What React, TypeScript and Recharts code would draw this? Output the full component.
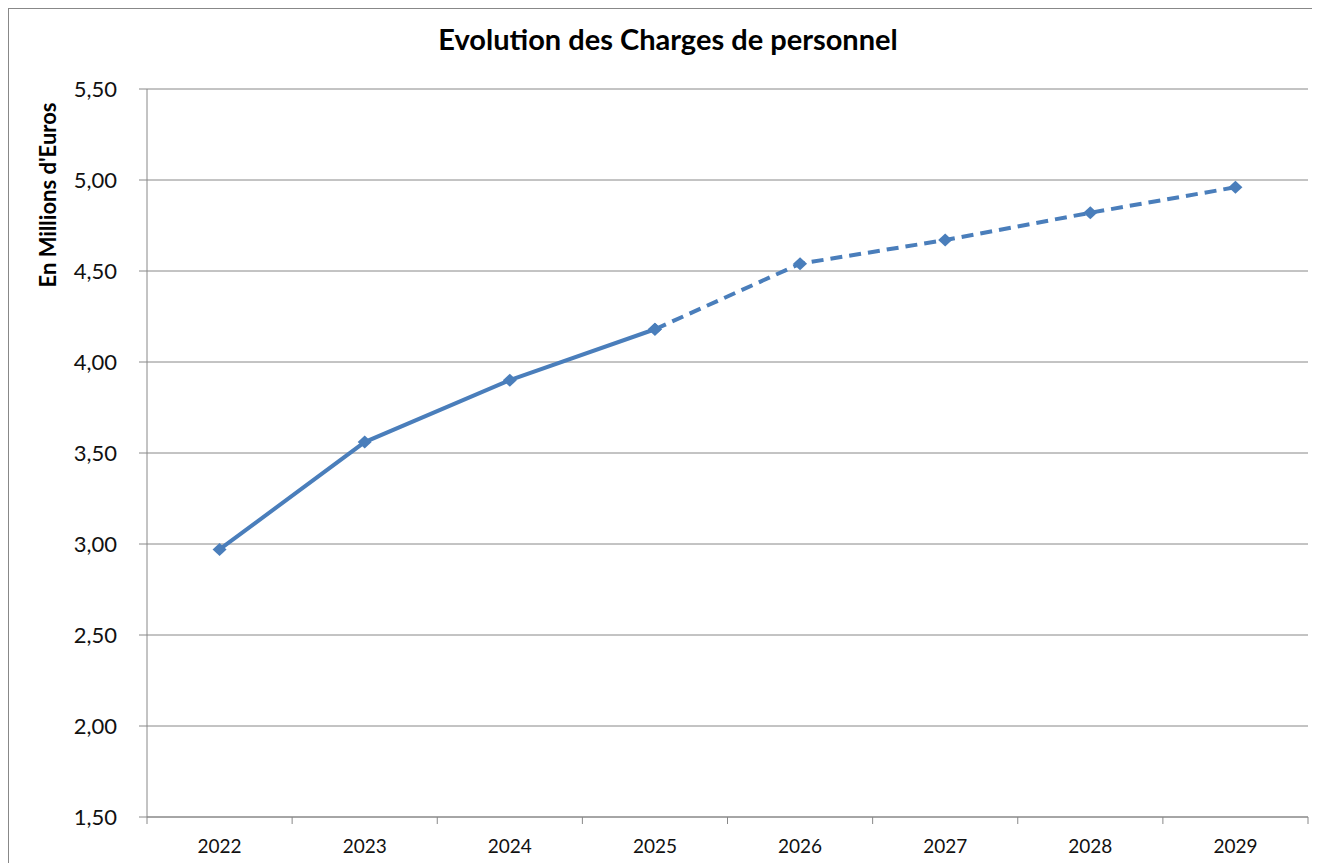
import { CartesianGrid, Line, LineChart, XAxis, YAxis } from 'recharts';

const years = ['2022', '2023', '2024', '2025', '2026', '2027', '2028', '2029'];
const charges = [2.97, 3.56, 3.9, 4.18, 4.54, 4.67, 4.82, 4.96];
const lastActual = 3; // 2025: solid up to here, dashed (forecast) after
const yTicks = [1.5, 2, 2.5, 3, 3.5, 4, 4.5, 5, 5.5];

const data = years.map((year, i) => ({
  year,
  actual: i <= lastActual ? charges[i] : null,
  forecast: i >= lastActual ? charges[i] : null,
}));

const W = 1312;
const H = 855;
const MARGIN = { top: 81, right: 12, left: 0, bottom: 6 };
const Y_W = 139;
const HALF_BAND = (W - Y_W - MARGIN.right) / years.length / 2;
const BLUE = '#4a7ebb';
const GRID = '#888888';
const FONT = 'Lato, "Open Sans", sans-serif';

const fmt = (v: number) => v.toFixed(2).replace('.', ',');

const Diamond = (props: any) => {
  const { cx, cy, value, index } = props;
  if (value == null || cx == null || cy == null) return <g key={index} />;
  return (
    <path
      key={index}
      d={`M${cx},${cy - 6.5} L${cx + 7},${cy} L${cx},${cy + 6.5} L${cx - 7},${cy} Z`}
      fill={BLUE}
    />
  );
};

// ticks sit on the category boundaries, labels in the middle of each band
const YearTick = ({ x, y, payload, index }: any) => (
  <g>
    <line x1={x - HALF_BAND} y1={y} x2={x - HALF_BAND} y2={y + 7} stroke={GRID} />
    {index === years.length - 1 && (
      <line x1={x + HALF_BAND} y1={y} x2={x + HALF_BAND} y2={y + 7} stroke={GRID} />
    )}
    <text x={x} y={y + 29} dy="0.355em" textAnchor="middle" fontSize={19} fill="#111" fontFamily={FONT}>
      {payload.value}
    </text>
  </g>
);

export default function App() {
  return (
    <div style={{ position: 'relative', width: W, height: H, background: '#fff', fontFamily: FONT }}>
      <style>{'html, body { overflow: hidden; }'}</style>
      <div
        style={{
          position: 'absolute', left: 0, top: 0, width: W, height: H, boxSizing: 'border-box',
          borderLeft: `1px solid ${GRID}`, borderTop: `1px solid ${GRID}`, pointerEvents: 'none',
        }}
      />
      <div
        style={{
          position: 'absolute', left: 8, top: 13, width: W - 8, textAlign: 'center',
          fontSize: 29, fontWeight: 700, color: '#000',
        }}
      >
        Evolution des Charges de personnel
      </div>
      <div
        style={{
          position: 'absolute', left: 39, top: 187, transform: 'translate(-50%, -50%) rotate(-90deg)',
          whiteSpace: 'nowrap', fontSize: 22, fontWeight: 700, color: '#000',
        }}
      >
        En Millions d'Euros
      </div>
      <LineChart width={W} height={H} data={data} margin={MARGIN}>
        <CartesianGrid vertical={false} stroke={GRID} />
        <XAxis
          dataKey="year"
          scale="band"
          height={40}
          axisLine={{ stroke: GRID }}
          tickLine={false}
          tickSize={0}
          tickMargin={0}
          interval={0}
          tick={<YearTick />}
        />
        <YAxis
          width={Y_W}
          domain={[1.5, 5.5]}
          ticks={yTicks}
          tickFormatter={fmt}
          axisLine={{ stroke: GRID }}
          tickLine={{ stroke: GRID }}
          tickSize={8}
          tickMargin={22}
          tick={{ fontSize: 22, fill: '#111', fontFamily: FONT }}
        />
        <Line
          type="linear"
          dataKey="actual"
          stroke={BLUE}
          strokeWidth={4}
          dot={Diamond}
          activeDot={false}
          isAnimationActive={false}
        />
        <Line
          type="linear"
          dataKey="forecast"
          stroke={BLUE}
          strokeWidth={4}
          strokeDasharray="12 7"
          dot={Diamond}
          activeDot={false}
          isAnimationActive={false}
        />
      </LineChart>
    </div>
  );
}
